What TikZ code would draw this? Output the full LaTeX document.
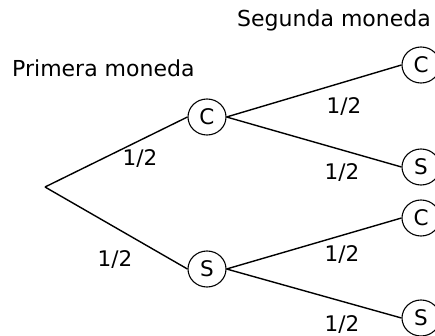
\documentclass[tikz,border=0pt]{standalone}
\usepackage{fontspec}
\setmainfont{DejaVu Sans}
\usetikzlibrary{shapes.geometric}
\tikzset{
  coin/.style={draw, ellipse, line width=1.1pt, inner sep=0pt, minimum width=38pt, minimum height=36pt, font=\fontsize{21.5}{25}\selectfont},
  prob/.style={inner sep=0pt, font=\fontsize{21.5}{25}\selectfont},
  head/.style={inner sep=0pt, anchor=base west, font=\fontsize{22}{26}\selectfont},
  branch/.style={line width=1.4pt}
}
\begin{document}
\begin{tikzpicture}[x=1pt,y=-1pt]
\useasboundingbox (0,0) rectangle (435,336);
\node[head] (t1) at (237,27) {Segunda moneda};
\node[head] (t2) at (12,77) {Primera moneda};
\coordinate (r) at (45,187);
\node[coin] (c1) at (207,117) {C};
\node[coin] (s1) at (207,269) {S};
\node[coin] (cc) at (421,65) {C};
\node[coin] (cs) at (421,167) {S};
\node[coin] (sc) at (421,218) {C};
\node[coin] (ss) at (421,318) {S};
\draw[branch] (r) -- (c1.west);
\draw[branch] (r) -- (s1.west);
\draw[branch] (c1.east) -- (cc.west);
\draw[branch] (c1.east) -- (cs.west);
\draw[branch] (s1.east) -- (sc.west);
\draw[branch] (s1.east) -- (ss.west);
\node[prob] (p1) at (140,159) {1/2};
\node[prob] (p2) at (115,260) {1/2};
\node[prob] (p3) at (344,107) {1/2};
\node[prob] (p4) at (342,173) {1/2};
\node[prob] (p5) at (342,255) {1/2};
\node[prob] (p6) at (342,325) {1/2};
\end{tikzpicture}
\end{document}
